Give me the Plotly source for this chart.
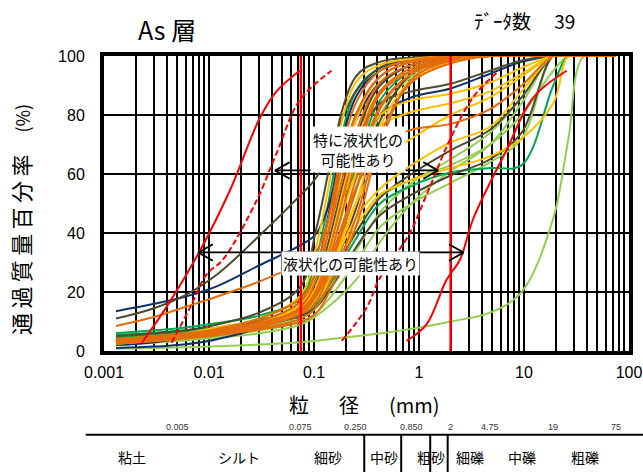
import numpy as np
import plotly.graph_objects as go

# ---------------- data ----------------
SIEVE_MM = [0.0013, 0.003, 0.006, 0.012, 0.03, 0.075, 0.106, 0.25, 0.425, 0.85,
            2, 4.75, 9.5, 19, 26.5, 37.5, 75]

LIGHTGREEN_CURVES = [
    [0.8, 1, 1.3, 1.6, 2.2, 3, 3.5, 5, 6, 7.5, 10, 13, 20, 45, 72, 100, 100],
    [2, 2.8, 3.6, 4.5, 6, 9, 12, 24, 37, 50, 61, 70, 84, 100, 100, 100, 100],
    [3, 4, 5, 6, 8, 12, 16, 40, 52, 58, 63, 70, 80, 95, 100, 100, 100],
    [2.5, 3.3, 4.2, 5.5, 8, 12, 17, 55, 80, 93, 98, 100, 100, 100, 100, 100, 100],
    [3, 4, 5, 6, 8, 11, 15, 34, 47, 57, 65, 74, 86, 100, 100, 100, 100],
    [2, 3, 4, 5, 7, 10, 13, 30, 42, 50, 57, 64, 72, 100, 100, 100, 100],
]
GREEN_CURVES = [
    [6, 7, 8, 9.5, 12, 18, 32, 88, 96, 99, 100, 100, 100, 100, 100, 100, 100],
    [5.5, 6.2, 7, 8, 10.5, 15, 21, 62, 85, 95, 99, 100, 100, 100, 100, 100, 100],
    [4.5, 5.5, 6.5, 7.5, 10, 13, 16, 38, 50, 56, 60.5, 62, 63, 90, 100, 100, 100],
]
NAVY_CURVES = [
    [1, 1.5, 2.3, 4, 8, 16, 28, 86, 95, 98.5, 100, 100, 100, 100, 100, 100, 100],
    [13.5, 16, 18.5, 22, 29, 36, 40, 78, 91, 97, 99.5, 100, 100, 100, 100, 100, 100],
    [2, 3, 4.5, 6, 9, 15, 22, 66, 80, 86, 89, 94, 98, 100, 100, 100, 100],
]
OLIVE_CURVES = [
    [5, 6, 7, 9, 13, 22, 42, 93, 98, 99.5, 100, 100, 100, 100, 100, 100, 100],
    [3.5, 4.5, 5.5, 7, 10, 16, 24, 72, 90, 97, 99.5, 100, 100, 100, 100, 100, 100],
    [3.5, 4.3, 5.2, 6.5, 9, 13, 17, 48, 78, 94, 99, 100, 100, 100, 100, 100, 100],
    [11, 14.5, 19, 26, 39, 53, 59, 88, 96, 99, 100, 100, 100, 100, 100, 100, 100],
    [4, 5, 6, 7.5, 10, 14, 18, 40, 52, 60, 68, 75, 86, 100, 100, 100, 100],
    [3, 4, 5, 6, 8.5, 12, 15, 35, 46, 53, 59.5, 65, 74, 100, 100, 100, 100],
    [3.5, 4.5, 5.5, 7, 10, 15, 22, 70, 84, 88, 90.6, 95, 98.5, 100, 100, 100, 100],
]
GOLD_CURVES = [
    [4, 5, 6, 8, 11, 19, 36, 91, 97, 99, 100, 100, 100, 100, 100, 100, 100],
    [3, 4, 5, 6.5, 9.5, 16, 26, 78, 93, 98, 100, 100, 100, 100, 100, 100, 100],
    [2.5, 3.5, 4.5, 6, 9, 15, 22, 70, 88, 95, 98.5, 100, 100, 100, 100, 100, 100],
    [3, 3.8, 4.7, 6, 8.5, 13, 18, 50, 76, 92, 98, 100, 100, 100, 100, 100, 100],
    [3, 4, 5, 6.5, 9, 13, 18, 45, 55, 63, 70.7, 76, 88, 100, 100, 100, 100],
    [3.5, 4.5, 5.5, 7, 9.5, 13, 17, 42, 53, 58, 62, 66, 72, 84, 100, 100, 100],
    [3, 4, 5, 6.5, 9, 14, 21, 60, 76, 81, 84, 88, 94, 100, 100, 100, 100],
    [3, 4, 5, 6.5, 9.5, 15, 22, 65, 80, 85, 87.2, 91, 96, 100, 100, 100, 100],
    [2.5, 3.5, 4.5, 6, 8.5, 13, 18, 50, 65, 72, 80, 86, 93, 100, 100, 100, 100],
]
ORANGE_CURVES = [
    [3.5, 4.5, 5.5, 7, 10, 17, 28, 84, 95, 98.5, 100, 100, 100, 100, 100, 100, 100],
    [3, 4, 5, 6.5, 9, 15, 25, 80, 93, 98, 99.5, 100, 100, 100, 100, 100, 100],
    [4, 5, 6, 7.5, 11, 18, 27, 74, 91, 97, 99.5, 100, 100, 100, 100, 100, 100],
    [3.5, 4.5, 5.5, 6.5, 9, 14, 21, 68, 88, 96, 99, 100, 100, 100, 100, 100, 100],
    [3, 3.8, 4.6, 5.8, 8, 13, 19, 64, 87, 95, 99, 100, 100, 100, 100, 100, 100],
    [3.5, 4.3, 5.2, 6.3, 8.5, 12.5, 17, 58, 83, 94, 98.5, 100, 100, 100, 100, 100, 100],
    [4, 4.8, 5.6, 6.8, 9.5, 14, 19, 54, 82, 94, 99, 100, 100, 100, 100, 100, 100],
    [2.5, 3.3, 4.2, 5.3, 7.5, 11, 15, 45, 73, 91, 97.5, 100, 100, 100, 100, 100, 100],
    [3.5, 4.1, 4.8, 5.7, 7.2, 10, 13, 42, 70, 92, 98.5, 100, 100, 100, 100, 100, 100],
    [8.5, 11.5, 15, 18.5, 23.5, 30, 34, 80, 93, 98, 100, 100, 100, 100, 100, 100, 100],
    [3, 4, 5, 6.5, 9, 14, 20, 55, 70, 75, 77, 82, 90, 100, 100, 100, 100],
]

# liquefaction boundary curves (red)
RED_SOLID_L_MM = [0.0023, 0.0039, 0.0082, 0.0158, 0.0305, 0.044, 0.073]
RED_SOLID_L_P = [2.8, 14.7, 34, 54.4, 79, 88, 95]
RED_DASH_L_MM = [0.0044, 0.0066, 0.0095, 0.0136, 0.0284, 0.044, 0.073, 0.147]
RED_DASH_L_P = [2.8, 14.7, 26, 31, 51, 67, 85, 95]
RED_DASH_R_MM = [0.184, 0.317, 0.42, 0.61, 0.82, 1.18, 1.47, 1.82, 3.27, 5.8]
RED_DASH_R_P = [3.4, 14.7, 24.5, 33, 40, 53, 61, 69, 86, 95]
RED_SOLID_R_MM = [0.76, 1.18, 1.82, 2.46, 3.3, 6.8, 12.3, 25.5]
RED_SOLID_R_P = [3.4, 9, 24, 31, 45, 68, 86, 95]
LIMIT_SIZES_MM = [0.075, 2.0]

X_TICK_DECADES = [0.001, 0.01, 0.1, 1, 10, 100]
X_TICK_LABELS = ["0.001", "0.01", "0.1", "1", "10", "100"]
Y_TICKS = [0, 20, 40, 60, 80, 100]

SOIL_BOUNDS_MM = [0.005, 0.075, 0.25, 0.85, 2, 4.75, 19, 75]
SOIL_BOUND_LABELS = ["0.005", "0.075", "0.250", "0.850", "2", "4.75", "19", "75"]
SOIL_NAMES = ["粘土", "シルト", "細砂", "中砂", "粗砂", "細礫", "中礫", "粗礫"]
TABLE_START_MM = 0.00067

# double-headed range arrows (tip sizes, percent)
ARROWS = [
    dict(left=0.0426, right=1.52, p=61.2),
    dict(left=0.0079, right=2.66, p=33.4),
]
CHEVRON_DECADES = 0.14   # head length along log axis
CHEVRON_HALF_P = 2.8     # head half-height in percent

# ---------------- figure ----------------
CJK = "Noto Sans CJK JP"
NUM = "Liberation Sans, Arial"

fig = go.Figure()

groups = [
    (LIGHTGREEN_CURVES, "#92D050"),
    (GREEN_CURVES, "#00A850"),
    (NAVY_CURVES, "#13306E"),
    (OLIVE_CURVES, "#4F4B30"),
    (GOLD_CURVES, "#FFC000"),
    (ORANGE_CURVES, "#E46C0A"),
]
for curves, col in groups:
    for c in curves:
        fig.add_trace(go.Scatter(
            x=SIEVE_MM, y=c, mode="lines",
            line=dict(color=col, width=2, shape="spline", smoothing=1),
            showlegend=False, hoverinfo="skip"))

for xs, ys, dash in [(RED_SOLID_L_MM, RED_SOLID_L_P, "solid"),
                     (RED_DASH_L_MM, RED_DASH_L_P, "6px,3px"),
                     (RED_DASH_R_MM, RED_DASH_R_P, "6px,3px"),
                     (RED_SOLID_R_MM, RED_SOLID_R_P, "solid")]:
    fig.add_trace(go.Scatter(
        x=xs, y=ys, mode="lines",
        line=dict(color="#FF0000", width=2, shape="spline", smoothing=1, dash=dash),
        showlegend=False, hoverinfo="skip"))

for s in LIMIT_SIZES_MM:
    fig.add_trace(go.Scatter(
        x=[s, s], y=[0, 100], mode="lines",
        line=dict(color="#FF0000", width=2.5),
        showlegend=False, hoverinfo="skip"))

# arrows: shaft + open chevron heads
for a in ARROWS:
    fig.add_trace(go.Scatter(
        x=[a["left"], a["right"]], y=[a["p"], a["p"]], mode="lines",
        line=dict(color="black", width=1.7), showlegend=False, hoverinfo="skip"))
    for tip, sgn in ((a["left"], 1), (a["right"], -1)):
        back = 10 ** (np.log10(tip) + sgn * CHEVRON_DECADES)
        fig.add_trace(go.Scatter(
            x=[back, tip, back],
            y=[a["p"] + CHEVRON_HALF_P, a["p"], a["p"] - CHEVRON_HALF_P],
            mode="lines", line=dict(color="black", width=1.9),
            showlegend=False, hoverinfo="skip"))

# grid positions at 1..9 x decades
grid_vals = []
grid_text = []
for i, dec in enumerate(X_TICK_DECADES[:-1]):
    for m in range(1, 10):
        grid_vals.append(m * dec)
        grid_text.append(X_TICK_LABELS[i] if m == 1 else "")
grid_vals.append(X_TICK_DECADES[-1])
grid_text.append(X_TICK_LABELS[-1])

fig.update_xaxes(
    type="log", range=[-3, 2], automargin=False,
    tickvals=grid_vals, ticktext=grid_text,
    showgrid=True, gridcolor="black", gridwidth=2,
    showline=True, linecolor="black", linewidth=4, mirror=True,
    ticks="", ticklabelstandoff=4,
    tickfont=dict(family=NUM, size=16, color="black"),
    zeroline=False)
fig.update_yaxes(
    range=[0, 100], tickvals=Y_TICKS, automargin=False,
    showgrid=True, gridcolor="black", gridwidth=2,
    showline=True, linecolor="black", linewidth=4, mirror=True,
    ticks="", ticklabelstandoff=12,
    tickfont=dict(family=NUM, size=16, color="black"),
    zeroline=False)

ann = []
ann.append(dict(
    x=np.log10(0.262), y=68.4, xref="x", yref="y", showarrow=False,
    xanchor="center", yanchor="middle",
    text="特に液状化の<br>可能性あり", bgcolor="white", borderpad=2,
    font=dict(family=CJK, size=15, color="black")))
ann.append(dict(
    x=np.log10(0.225), y=29.8, xref="x", yref="y", showarrow=False,
    xanchor="center", yanchor="middle",
    text="液状化の可能性あり", bgcolor="white", borderpad=1,
    font=dict(family=CJK, size=15, color="black")))

# titles
ann.append(dict(x=0.1205, y=1.0915, xref="paper", yref="paper", showarrow=False,
                xanchor="center", yanchor="middle",
                text="As 層", font=dict(family=CJK, size=25, color="black")))
ann.append(dict(x=0.80, y=1.119, xref="paper", yref="paper", showarrow=False,
                xanchor="center", yanchor="middle",
                text="ﾃﾞｰﾀ数　 39", font=dict(family=CJK, size=19, color="black")))
ann.append(dict(x=0.497, y=-0.183, xref="paper", yref="paper", showarrow=False,
                xanchor="center", yanchor="middle",
                text="粒\u3000\u2002径\u3000\u2002(mm)",
                font=dict(family=CJK, size=20, color="black")))
ann.append(dict(x=-0.16, y=0.444, xref="paper", yref="paper", showarrow=False,
                xanchor="center", yanchor="middle", textangle=-90,
                text="通\u2009過\u2009質\u2009量\u2009百\u2009分\u2009率\u2003"
                     "<span style='font-size:18px'>(%)</span>",
                font=dict(family=CJK, size=22, color="black")))

# soil classification table
LINE_Y = -0.2837
BOTTOM_Y = -0.41
shapes = [dict(type="line", xref="paper", yref="paper",
               x0=(np.log10(TABLE_START_MM) + 3) / 5, x1=1.03, y0=LINE_Y, y1=LINE_Y,
               line=dict(color="black", width=2))]
for b, lab in zip(SOIL_BOUNDS_MM, SOIL_BOUND_LABELS):
    shapes.append(dict(type="line", xref="x", yref="paper",
                       x0=np.log10(b), x1=np.log10(b), y0=LINE_Y, y1=BOTTOM_Y,
                       line=dict(color="black", width=2)))
    ann.append(dict(x=np.log10(b), y=-0.256, xref="x", yref="paper", showarrow=False,
                    xanchor="center", yanchor="middle",
                    text=lab, font=dict(family=NUM, size=9, color="#333333")))
edges = [TABLE_START_MM] + SOIL_BOUNDS_MM
for i, name in enumerate(SOIL_NAMES):
    mid = (np.log10(edges[i]) + np.log10(edges[i + 1])) / 2
    ann.append(dict(x=mid, y=-0.36, xref="x", yref="paper", showarrow=False,
                    xanchor="center", yanchor="middle",
                    text=name, font=dict(family=CJK, size=14, color="black")))

fig.update_layout(
    width=643, height=472,
    margin=dict(l=104, r=14, t=56, b=121),
    plot_bgcolor="white", paper_bgcolor="white",
    annotations=ann, shapes=shapes, showlegend=False)

fig.write_html("out.html")
